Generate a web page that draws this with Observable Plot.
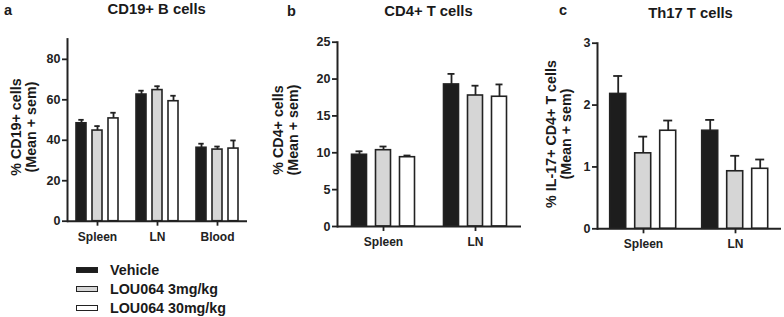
<!DOCTYPE html>
<html>
<head>
<meta charset="utf-8">
<script src="https://cdn.jsdelivr.net/npm/d3@7"></script>
<script src="https://cdn.jsdelivr.net/npm/@observablehq/plot@0.6"></script>
<style>
  html, body { margin: 0; padding: 0; background: #fff; }
  #root { position: relative; width: 784px; height: 317px; overflow: hidden; background: #fff;
          font-family: "Liberation Sans", Arial, Helvetica, sans-serif; font-weight: bold; color: #1a1a1a; }
  .abs { position: absolute; white-space: nowrap; }
  svg text { font-weight: bold; }
</style>
</head>
<body>
<div id="root"></div>
<script>
// ---------- data ----------
const treatments = ["Vehicle", "LOU064 3mg/kg", "LOU064 30mg/kg"];
const treatmentFills = ["#1d1d1d", "#d6d6d6", "#ffffff"];

const cd19Sites = ["Spleen", "LN", "Blood"];
const cd19Mean = [[48.4, 44.8, 50.8], [62.6, 64.8, 59.3], [36.3, 35.4, 35.9]];
const cd19Sem  = [[1.7, 2.2, 2.8], [1.9, 1.9, 2.7], [2.0, 1.5, 4.0]];
const cd19Ticks = [0, 20, 40, 60, 80];

const cd4Sites = ["Spleen", "LN"];
const cd4Mean = [[9.73, 10.35, 9.4], [19.27, 17.77, 17.6]];
const cd4Sem  = [[0.47, 0.5, 0.23], [1.43, 1.33, 1.67]];
const cd4Ticks = [0, 5, 10, 15, 20, 25];

const th17Sites = ["Spleen", "LN"];
const th17Mean = [[2.18, 1.22, 1.585], [1.585, 0.93, 0.97]];
const th17Sem  = [[0.29, 0.27, 0.165], [0.175, 0.25, 0.15]];
const th17Ticks = [0, 1, 2, 3];

const panelLetters = ["a", "b", "c"];
const panelTitles = ["CD19+ B cells", "CD4+ T cells", "Th17 T cells"];
const yLabels = [["% CD19+ cells", "(Mean + sem)"], ["% CD4+ cells", "(Mean + sem)"], ["% IL-17+ CD4+ T cells", "(Mean + sem)"]];

// ---------- helpers ----------
const FONT = '"Liberation Sans", Arial, Helvetica, sans-serif';
const INK = "#222";
const root = document.getElementById("root");

function rows(sites, means, sems) {
  const out = [];
  sites.forEach((s, i) => treatments.forEach((t, j) => out.push({site: s, treatment: t, mean: means[i][j], sem: sems[i][j]})));
  return out;
}

function place(text, x, baseline, size, anchor = "start") {
  const d = document.createElement("div");
  d.className = "abs";
  d.textContent = text;
  d.style.fontSize = size + "px";
  d.style.lineHeight = size + "px";
  d.style.top = (baseline - 0.8465 * size) + "px";
  if (anchor === "middle") { d.style.left = (x - 150) + "px"; d.style.width = "300px"; d.style.textAlign = "center"; }
  else d.style.left = x + "px";
  root.appendChild(d);
}

function yLabel(lines, cx, cy, size) {
  const d = document.createElement("div");
  d.className = "abs";
  const W = 240, H = 30;
  d.style.width = W + "px"; d.style.height = H + "px";
  d.style.left = (cx - W / 2) + "px"; d.style.top = (cy - H / 2) + "px";
  d.style.textAlign = "center"; d.style.fontSize = size + "px"; d.style.lineHeight = "15px";
  d.style.transform = "rotate(-90deg)";
  d.innerHTML = lines.map(l => `<div>${l}</div>`).join("");
  root.appendChild(d);
}

function panel(o) {
  const data = rows(o.sites, o.means, o.sems);
  const svg = Plot.plot({
    width: o.width, height: o.height,
    marginLeft: o.ml, marginRight: o.mr, marginTop: o.mt, marginBottom: o.mb,
    style: {fontFamily: FONT, fontSize: "12.5px", fontWeight: "bold", color: INK, background: "transparent", overflow: "visible"},
    fx: {domain: o.sites, paddingInner: 0, paddingOuter: 0, label: null},
    x: {domain: treatments, paddingInner: o.pi, paddingOuter: o.po, axis: null},
    y: {domain: o.yDomain, label: null},
    color: {domain: treatments, range: treatmentFills},
    marks: [
      Plot.barY(data, {fx: "site", x: "treatment", y: "mean", fill: "treatment", stroke: INK, strokeWidth: 1.6}),
      Plot.ruleX(data, {fx: "site", x: "treatment", y1: "mean", y2: d => d.mean + d.sem, stroke: INK, strokeWidth: 1.8}),
      Plot.tickY(data, {fx: "site", x: "treatment", y: d => d.mean + d.sem, stroke: INK, strokeWidth: 1.8, insetLeft: o.cap, insetRight: o.cap}),
      Plot.ruleY([0], {stroke: INK, strokeWidth: 2}),
      Plot.frame({anchor: "left", facetAnchor: "left", stroke: INK, strokeWidth: 2}),
      Plot.axisY({ticks: o.ticks, tickFormat: d3.format("d"), tickSize: 5, tickPadding: 2, label: null, strokeWidth: 1.8, fontSize: 12.5}),
      Plot.axisFx({anchor: "bottom", tickSize: 5, tickPadding: 6, label: null, strokeWidth: 1.8, fontSize: 12})
    ]
  });
  const wrap = document.createElement("div");
  wrap.className = "abs";
  wrap.style.left = o.left + "px"; wrap.style.top = "0px";
  wrap.appendChild(svg);
  root.appendChild(wrap);
}

// ---------- panels ----------
panel({left: 0, width: 260, height: 250, ml: 66, mr: 12.2, mt: 38.6, mb: 29.3, pi: 0.36, po: 0.54, cap: 2.3,
       sites: cd19Sites, means: cd19Mean, sems: cd19Sem, yDomain: [0, 90], ticks: cd19Ticks});
panel({left: 260, width: 262, height: 255, ml: 76.5, mr: 0.5, mt: 41.7, mb: 29, pi: 0.36, po: 0.53, cap: 4,
       sites: cd4Sites, means: cd4Mean, sems: cd4Sem, yDomain: [0, 25], ticks: cd4Ticks});
panel({left: 522, width: 262, height: 258, ml: 75.3, mr: 2.3, mt: 42.7, mb: 29.7, pi: 0.34, po: 0.49, cap: 3.5,
       sites: th17Sites, means: th17Mean, sems: th17Sem, yDomain: [0, 3], ticks: th17Ticks});

// ---------- titles ----------
place(panelLetters[0], 4, 15, 14.5);
place(panelLetters[1], 287, 16.7, 14.5);
place(panelLetters[2], 559, 15.5, 14.5);
place(panelTitles[0], 156.7, 15, 14.8, "middle");
place(panelTitles[1], 428.5, 17, 14.8, "middle");
place(panelTitles[2], 690.5, 19, 14.8, "middle");

// ---------- y labels ----------
yLabel(yLabels[0], 23.5, 127, 14.3);
yLabel(yLabels[1], 285.5, 130, 14.3);
yLabel(yLabels[2], 559, 134, 14.3);

// ---------- legend ----------
const legendBaselines = [275, 294, 313];
treatments.forEach((t, i) => {
  const sw = document.createElement("div");
  sw.className = "abs";
  sw.style.left = "76px"; sw.style.top = (legendBaselines[i] - 8.5) + "px";
  sw.style.width = "22px"; sw.style.height = "6px"; sw.style.boxSizing = "border-box";
  sw.style.border = "1.8px solid " + INK; sw.style.background = treatmentFills[i];
  root.appendChild(sw);
  place(t, 110, legendBaselines[i], 14.3);
});
</script>
</body>
</html>
